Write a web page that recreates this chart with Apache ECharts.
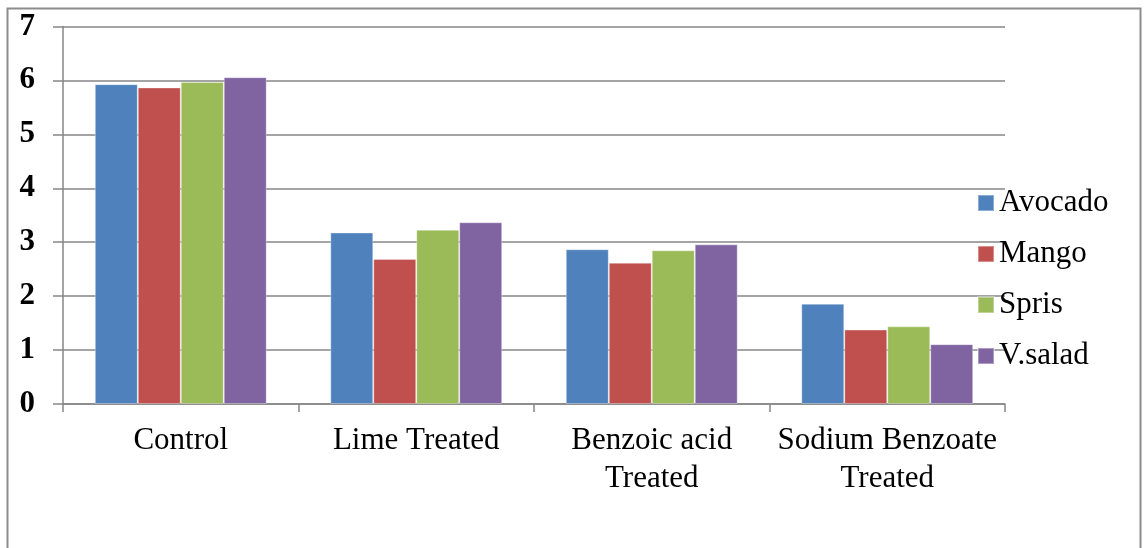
<!DOCTYPE html>
<html>
<head>
<meta charset="utf-8">
<script src="https://cdn.jsdelivr.net/npm/echarts@6/dist/echarts.min.js"></script>
<style>
html,body{margin:0;padding:0;background:#fff;}
#chart{width:1144px;height:548px;}
</style>
</head>
<body>
<div id="chart"></div>
<script>
var categories = ["Control", "Lime Treated", "Benzoic acid\nTreated", "Sodium Benzoate\nTreated"];
var seriesNames = ["Avocado", "Mango", "Spris", "V.salad"];
var avocado = [5.93, 3.18, 2.87, 1.86];
var mango = [5.87, 2.69, 2.62, 1.38];
var spris = [5.97, 3.23, 2.85, 1.44];
var vsalad = [6.06, 3.37, 2.96, 1.11];
var yTicks = [0, 1, 2, 3, 4, 5, 6, 7];
var colors = ["#4F81BD", "#C0504D", "#9BBB59", "#8064A2"];

var seriesData = [avocado, mango, spris, vsalad];
var font = "'Liberation Serif', 'Times New Roman', serif";
var gray = "#868686";

var chart = echarts.init(document.getElementById('chart'), null, {renderer: 'canvas'});
chart.setOption({
  animation: false,
  backgroundColor: '#ffffff',
  color: colors,
  graphic: [{
    type: 'rect',
    shape: {x: 7.5, y: 8.5, width: 1133, height: 600},
    style: {fill: 'none', stroke: '#8c8c8c', lineWidth: 2},
    silent: true
  }],
  grid: {left: 63, right: 139, top: 26.5, bottom: 144, containLabel: false},
  legend: {
    orient: 'vertical',
    left: 977,
    top: 187,
    padding: 0,
    icon: 'rect',
    itemWidth: 16,
    itemHeight: 16,
    itemGap: 19,
    data: seriesNames,
    textStyle: {fontFamily: font, fontSize: 31, color: '#000', lineHeight: 32}
  },
  xAxis: {
    type: 'category',
    data: categories,
    axisLine: {show: true, lineStyle: {color: gray, width: 1.5}},
    axisTick: {show: true, alignWithLabel: false, length: 8, lineStyle: {color: gray, width: 1.5}},
    axisLabel: {fontFamily: font, fontSize: 31, color: '#000', margin: 18, lineHeight: 38, interval: 0}
  },
  yAxis: {
    type: 'value',
    min: 0,
    max: 7,
    interval: 1,
    axisLine: {show: true, lineStyle: {color: gray, width: 1.5}},
    axisTick: {show: true, length: 10, lineStyle: {color: gray, width: 1.5}},
    axisLabel: {
      fontFamily: font, fontSize: 31, fontWeight: 'bold', color: '#000', margin: 28,
      formatter: function (v) { return yTicks.indexOf(v) >= 0 ? String(v) : ''; }
    },
    splitLine: {show: true, lineStyle: {color: gray, width: 1.5}}
  },
  series: seriesNames.map(function (name, i) {
    return {
      name: name,
      type: 'bar',
      data: seriesData[i],
      barGap: '0%',
      barCategoryGap: '27%',
      itemStyle: {color: colors[i], borderColor: 'rgba(255,255,255,0.35)', borderWidth: 1}
    };
  })
});
</script>
</body>
</html>
